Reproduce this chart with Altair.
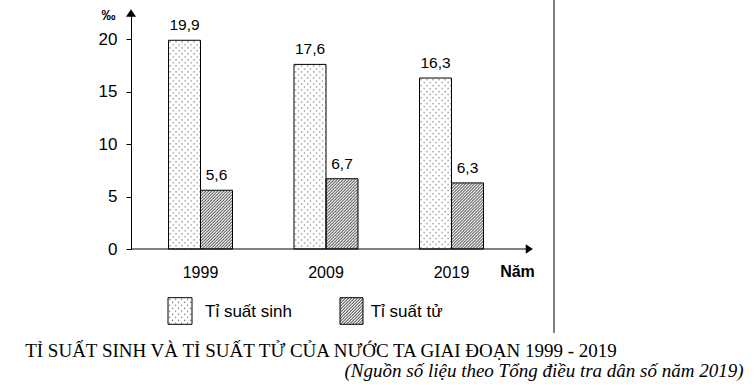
import base64
import altair as alt
import pandas as pd

# ---------------- data ----------------
years = ["1999", "2009", "2019"]
birth_rate = [19.9, 17.6, 16.3]
death_rate = [5.6, 6.7, 6.3]
series_names = ["Tỉ suất sinh", "Tỉ suất tử"]
y_ticks = [0, 5, 10, 15, 20]
unit_label = "‰"
x_title = "Năm"
title_text = "TỈ SUẤT SINH VÀ TỈ SUẤT TỬ CỦA NƯỚC TA GIAI ĐOẠN 1999 - 2019"
source_text = "(Nguồn số liệu theo Tổng điều tra dân số năm 2019)"

rows = []
for i, yr in enumerate(years):
    rows.append({"year": yr, "series": series_names[0], "value": birth_rate[i]})
    rows.append({"year": yr, "series": series_names[1], "value": death_rate[i]})
df = pd.DataFrame(rows)


def svg_uri(svg):
    return "data:image/svg+xml;base64," + base64.b64encode(svg.encode("utf-8")).decode("ascii")


DOTS = svg_uri(
    "<svg xmlns='http://www.w3.org/2000/svg' width='100%' height='100%'>"
    "<defs><pattern id='p' width='6' height='6' patternUnits='userSpaceOnUse'>"
    "<rect x='1' y='1' width='1.2' height='1.2' fill='#6a6a6a'/>"
    "<rect x='4' y='4' width='1.2' height='1.2' fill='#6a6a6a'/>"
    "</pattern></defs>"
    "<rect width='100%' height='100%' fill='white'/>"
    "<rect width='100%' height='100%' fill='url(#p)'/></svg>"
)
HATCH = svg_uri(
    "<svg xmlns='http://www.w3.org/2000/svg' width='100%' height='100%'>"
    "<defs><pattern id='h' width='3' height='3' patternUnits='userSpaceOnUse'>"
    "<path d='M-1,1 l2,-2 M0,3 l3,-3 M2,4 l2,-2' stroke='#333' stroke-width='0.9'/>"
    "</pattern></defs>"
    "<rect width='100%' height='100%' fill='white'/>"
    "<rect width='100%' height='100%' fill='url(#h)'/></svg>"
)

SANS = "Liberation Sans"
SERIF = "Liberation Serif"
W, H = 390, 236
PAD_L, PAD_T = 131, 13

x_enc = alt.X(
    "year:N",
    sort=years,
    scale=alt.Scale(paddingInner=0.49, paddingOuter=0.2988),
    axis=alt.Axis(
        title=x_title,
        labelAngle=0,
        ticks=False,
        domain=False,
        labelPadding=15,
        labelFontSize=16,
        labelFont=SANS,
        labelColor="black",
        titleFont=SANS,
        titleFontSize=16,
        titleFontWeight="bold",
        titleColor="black",
        titleX=386,
        titleY=22.4,
        titleAlign="center",
        titleBaseline="middle",
        titleAngle=0,
    ),
)
xoff = alt.XOffset("series:N", sort=series_names, scale=alt.Scale(paddingInner=0, paddingOuter=0))
y_enc = alt.Y(
    "value:Q",
    scale=alt.Scale(domain=[0, 22.5], nice=False, zero=True),
    axis=alt.Axis(
        values=y_ticks,
        title=unit_label,
        grid=False,
        tickSize=5,
        tickColor="black",
        domainColor="black",
        labelPadding=9,
        labelFontSize=17,
        labelFont=SANS,
        labelColor="black",
        titleFont=SANS,
        titleFontSize=14,
        titleFontWeight="bold",
        titleColor="black",
        titleAngle=0,
        titleX=-23,
        titleY=2,
        titleAlign="center",
        titleBaseline="middle",
    ),
)

base = alt.Chart(df).encode(x=x_enc, xOffset=xoff, y=y_enc, y2=alt.datum(0))

dots = base.transform_filter(alt.datum.series == series_names[0]).mark_image(aspect=False).encode(
    url=alt.value(DOTS)
)
hatch = base.transform_filter(alt.datum.series == series_names[1]).mark_image(aspect=False).encode(
    url=alt.value(HATCH)
)
outline = base.mark_bar(fillOpacity=0, stroke="black", strokeWidth=1)

labels = (
    alt.Chart(df)
    .transform_calculate(lab="replace(format(datum.value, '.1f'), '.', ',')")
    .mark_text(font=SANS, fontSize=15.5, baseline="middle", align="center", dy=-15, color="black")
    .encode(x=x_enc, xOffset=xoff, y=y_enc, text="lab:N")
)

one = pd.DataFrame({"k": [0]})
x_axis_line = alt.Chart(one).mark_rule(color="black", strokeWidth=1).encode(
    x=alt.value(0), x2=alt.value(398), y=alt.datum(0)
)
arrow_up = alt.Chart(one).mark_point(
    shape="M0,-0.75L1,0.75L-1,0.75Z", filled=True, fill="black", stroke="black", strokeWidth=0, size=100, opacity=1
).encode(x=alt.value(0), y=alt.value(0))
arrow_right = alt.Chart(one).mark_point(
    shape="M0.75,0L-0.75,1L-0.75,-1Z", filled=True, fill="black", stroke="black", strokeWidth=0, size=90, opacity=1
).encode(x=alt.value(398.3), y=alt.datum(0))

page_line = alt.Chart(one).mark_rule(color="black", strokeWidth=1).encode(
    x=alt.value(423), y=alt.value(-13), y2=alt.value(320)
)

# legend
leg_dots_img = alt.Chart(one).mark_image(aspect=False).encode(
    x=alt.value(37), x2=alt.value(61), y=alt.value(284.7), y2=alt.value(311.3), url=alt.value(DOTS)
)
leg_dots_box = alt.Chart(one).mark_rect(fillOpacity=0, stroke="black", strokeWidth=1).encode(
    x=alt.value(37), x2=alt.value(61), y=alt.value(284.7), y2=alt.value(311.3)
)
leg_hatch_img = alt.Chart(one).mark_image(aspect=False).encode(
    x=alt.value(209), x2=alt.value(232), y=alt.value(284.7), y2=alt.value(311.3), url=alt.value(HATCH)
)
leg_hatch_box = alt.Chart(one).mark_rect(fillOpacity=0, stroke="black", strokeWidth=1).encode(
    x=alt.value(209), x2=alt.value(232), y=alt.value(284.7), y2=alt.value(311.3)
)
leg_t1 = alt.Chart(one).mark_text(font=SANS, fontSize=17, align="left", baseline="middle", color="black").encode(
    x=alt.value(74), y=alt.value(298.7), text=alt.value(series_names[0])
)
leg_t2 = alt.Chart(one).mark_text(font=SANS, fontSize=17, align="left", baseline="middle", color="black").encode(
    x=alt.value(239.7), y=alt.value(298.7), text=alt.value(series_names[1])
)

title_mark = alt.Chart(one).mark_text(font=SERIF, fontSize=19, align="center", baseline="middle", color="black").encode(
    x=alt.value(190), y=alt.value(338.4), text=alt.value(title_text)
)
source_mark = alt.Chart(one).mark_text(
    font=SERIF, fontSize=19, fontStyle="italic", align="center", baseline="middle", color="black"
).encode(x=alt.value(413), y=alt.value(358.4), text=alt.value(source_text))

chart = (
    alt.layer(
        dots, hatch, outline, labels, x_axis_line, arrow_up, arrow_right, page_line,
        leg_dots_img, leg_dots_box, leg_hatch_img, leg_hatch_box, leg_t1, leg_t2,
        title_mark, source_mark,
    )
    .properties(
        width=W,
        height=H,
        autosize=alt.AutoSizeParams(type="none"),
        padding={"left": PAD_L, "top": PAD_T, "right": 754 - PAD_L - W, "bottom": 391 - PAD_T - H},
        background="white",
    )
    .configure_view(stroke=None)
)

chart.save("out.html", embed_options={"renderer": "svg", "actions": False})
